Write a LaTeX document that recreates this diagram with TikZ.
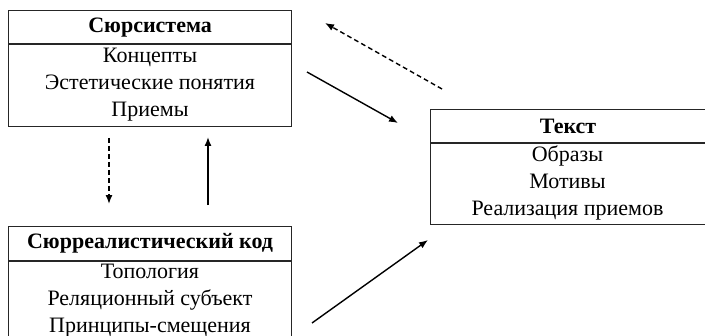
\documentclass[tikz,border=0pt]{standalone}
\usepackage{fontspec}
\setmainfont{Liberation Serif}
\usetikzlibrary{arrows.meta}
\begin{document}
\begin{tikzpicture}[x=0.5pt,y=-0.5pt,
  every node/.style={font=\fontsize{11}{13.4}\selectfont},
  boxpart/.style={draw=black!85, line width=0.6pt, inner sep=0pt, minimum width=141.5pt},
  headpart/.style={boxpart, minimum height=16.5pt, font=\fontsize{11}{13.4}\selectfont\bfseries},
  line/.style={anchor=base, inner sep=0pt},
  link/.style={line width=0.7pt, -{Latex[length=4.5pt,width=3.5pt]}},
  dashlink/.style={link, dash pattern=on 2.4pt off 1.6pt}]
\clip (0,0) rectangle (705,336);
\fill[white] (0,0) rectangle (705,336);
% Сюрсистема
\node[headpart, anchor=north west] (sysh) at (8,10) {Сюрсистема};
\node[boxpart, anchor=north, minimum height=41pt] (sysb) at (sysh.south) {};
\node[line] (sys1) at (150,63) {Концепты};
\node[line] (sys2) at (150,90) {Эстетические понятия};
\node[line] (sys3) at (150,117) {Приемы};
% Текст
\node[headpart, anchor=north west, minimum width=137.5pt] (txth) at (430,109) {Текст};
\node[boxpart, anchor=north, minimum width=137.5pt, minimum height=40.5pt] (txtb) at (txth.south) {};
\node[line] (txt1) at (567.5,162) {Образы};
\node[line] (txt2) at (567.5,188.5) {Мотивы};
\node[line] (txt3) at (567.5,215) {Реализация приемов};
% Сюрреалистический код
\node[headpart, anchor=north west, minimum height=17pt] (codh) at (8,226) {Сюрреалистический код};
\node[boxpart, anchor=north, minimum height=45pt] (codb) at (codh.south) {};
\node[line] (cod1) at (150,278) {Топология};
\node[line] (cod2) at (150,305) {Реляционный субъект};
\node[line] (cod3) at (150,332) {Принципы-смещения};
% connectors
\coordinate (a1s) at (307,72);  \coordinate (a1e) at (398,123);
\coordinate (a2s) at (442,89);  \coordinate (a2e) at (325,23);
\coordinate (a3s) at (312,323); \coordinate (a3e) at (428,240);
\coordinate (a4s) at (109,138); \coordinate (a4e) at (109,204);
\coordinate (a5s) at (208,205); \coordinate (a5e) at (208,137);
\draw[link] (a1s) -- (a1e);
\draw[dashlink] (a2s) -- (a2e);
\draw[link] (a3s) -- (a3e);
\draw[dashlink] (a4s) -- (a4e);
\draw[link] (a5s) -- (a5e);
\end{tikzpicture}
\end{document}
